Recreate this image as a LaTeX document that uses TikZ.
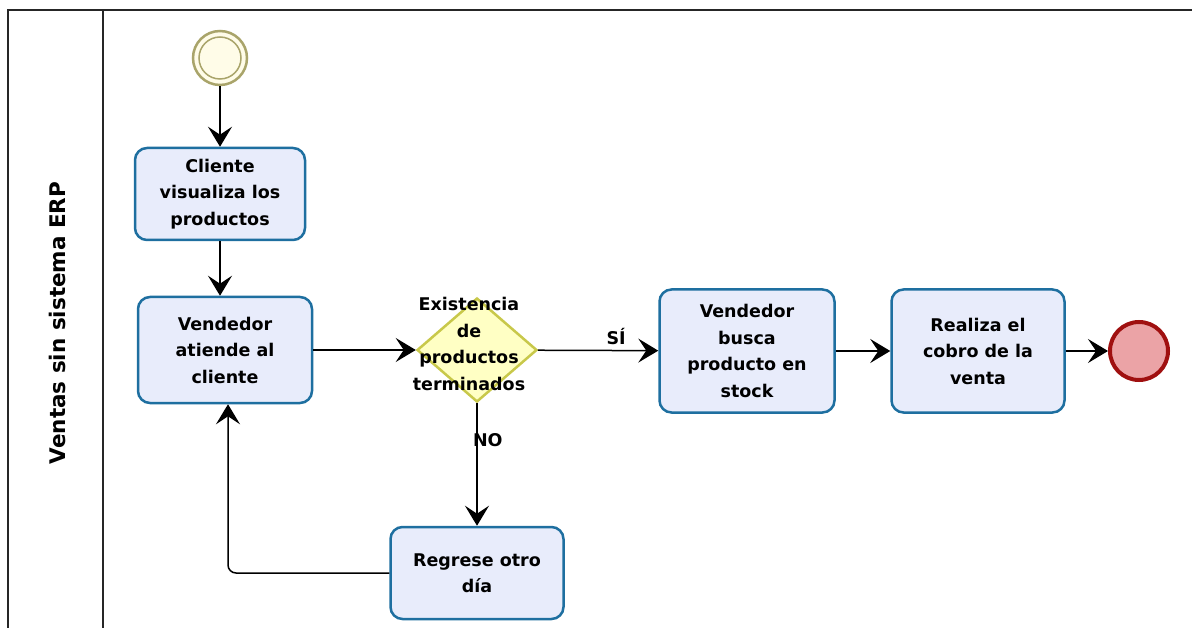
\documentclass[tikz,border=0pt]{standalone}
\usepackage{fontspec}
\setmainfont{DejaVu Sans}
\usetikzlibrary{arrows.meta, positioning, shapes.geometric}
\definecolor{taskblue}{HTML}{1E6FA0}
\definecolor{taskfill}{HTML}{E8ECFB}
\definecolor{startline}{HTML}{A9A46A}
\definecolor{startfill}{HTML}{FFFCE8}
\definecolor{gateline}{HTML}{C8C84A}
\definecolor{gatefill}{HTML}{FFFFC4}
\definecolor{endline}{HTML}{A01010}
\definecolor{endfill}{HTML}{EBA3A6}

\begin{document}
\begin{tikzpicture}[x=1pt, y=-1pt,
    task/.style={draw=taskblue, fill=taskfill, line width=2.5pt, rounded corners=12pt,
        minimum width=172pt, align=center, font=\fontsize{17.5}{26.5}\selectfont\bfseries},
    flow/.style={-{Stealth[length=20pt, width=24pt, inset=8pt]}, line width=1.5pt},
    lbl/.style={font=\fontsize{17.5}{26.5}\selectfont\bfseries}
]
    \useasboundingbox (0,0) rectangle (1192,628);
    \clip (0,0) rectangle (1192,628);

    % pool and lane
    \draw[line width=1.5pt, black!85] (8,10) rectangle (1220,660);
    \draw[line width=1.5pt, black!85] (103,10) -- (103,660);
    \node[rotate=90, font=\fontsize{21.5}{26}\selectfont\bfseries] (lane) at (57,323) {Ventas sin sistema ERP};

    % events
    \node[circle, draw=startline, fill=startfill, line width=2.5pt, minimum size=54pt, inner sep=0pt] (start) at (220,58) {};
    \draw[startline, line width=1.5pt] (start.center) circle (21pt);
    \node[circle, draw=endline, fill=endfill, line width=4pt, minimum size=58pt, inner sep=0pt] (fin) at (1139,351) {};

    % tasks
    \node[task, minimum height=92pt, minimum width=170pt] (visualiza) at (220,194) {Cliente\\visualiza los\\productos};
    \node[task, minimum height=106pt, minimum width=174pt] (atiende) at (225,350) {Vendedor\\atiende al\\cliente};
    \node[task, minimum height=123pt, minimum width=175pt] (busca) at (747,351) {Vendedor\\busca\\producto en\\stock};
    \node[task, minimum height=123pt, minimum width=173pt] (cobro) at (978,351) {Realiza el\\cobro de la\\venta};
    \node[task, minimum height=92pt, minimum width=173pt] (regrese) at (477,573) {Regrese otro\\día};

    % gateway
    \node[diamond, draw=gateline, fill=gatefill, line width=2.5pt, inner sep=0pt,
          minimum width=120pt, minimum height=104pt] (existe) at (477,350) {};
    \node[lbl, align=center] (existetxt) at (469,344) {Existencia\\de\\productos\\terminados};

    % flows
    \draw[flow] (start) -- (visualiza);
    \draw[flow] (visualiza) -- (visualiza.south |- atiende.north);
    \draw[flow] (atiende) -- (existe);
    \draw[flow] (existe) -- node[lbl, above=2pt, pos=0.65] (si) {SÍ} (busca);
    \draw[flow] (busca) -- (cobro);
    \draw[flow] (cobro) -- (fin);
    \draw[flow] (existe) -- node[lbl, right=-8pt, pos=0.3] (no) {NO} (regrese);
    \draw[flow, rounded corners=8pt] (regrese.west) -| ([xshift=3pt]atiende.south);
\end{tikzpicture}
\end{document}
